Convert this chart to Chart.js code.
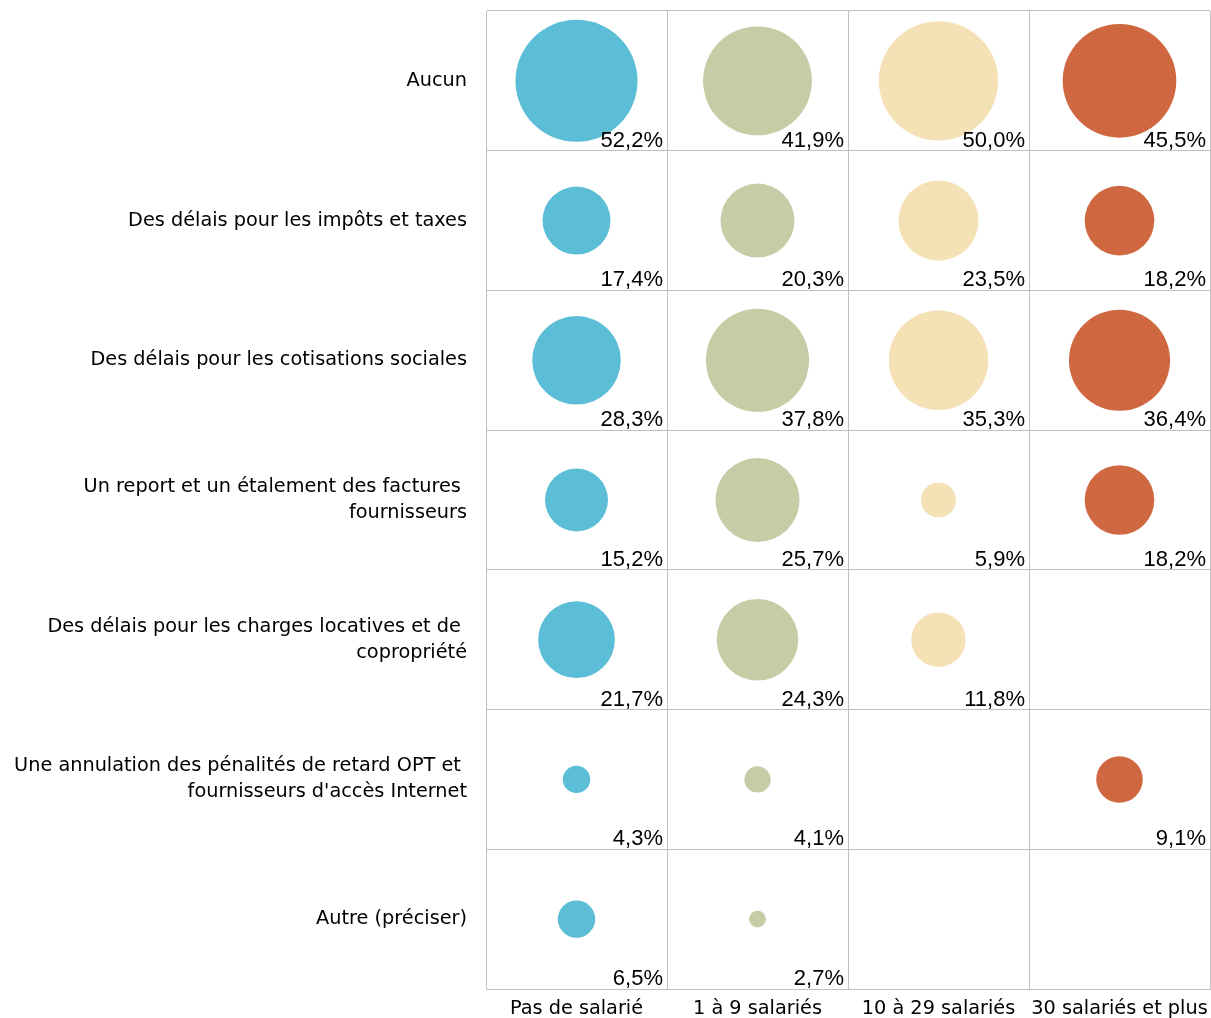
<!DOCTYPE html>
<html>
<head>
<meta charset="utf-8">
<script src="https://cdn.jsdelivr.net/npm/chart.js@4"></script>
<style>
  html, body { margin: 0; padding: 0; background: #fff; }
  #wrap { width: 1211px; height: 1018px; }
</style>
</head>
<body>
<div id="wrap"><canvas id="bubbleChart"></canvas></div>
<script>
// ===============================
// Data
// ===============================
const columns = ["Pas de salarié", "1 à 9 salariés", "10 à 29 salariés", "30 salariés et plus"];
const rows = [
  "Aucun",
  "Des délais pour les impôts et taxes",
  "Des délais pour les cotisations sociales",
  ["Un report et un étalement des factures ", "fournisseurs"],
  ["Des délais pour les charges locatives et de ", "copropriété"],
  ["Une annulation des pénalités de retard OPT et ", "fournisseurs d'accès Internet"],
  "Autre (préciser)"
];
// one array per column, one value per row (null = no answer)
const pasDeSalarie = [52.2, 17.4, 28.3, 15.2, 21.7, 4.3, 6.5];
const unA9 = [41.9, 20.3, 37.8, 25.7, 24.3, 4.1, 2.7];
const dixA29 = [50.0, 23.5, 35.3, 5.9, 11.8, null, null];
const trentePlus = [45.5, 18.2, 36.4, 18.2, null, 9.1, null];
const colours = ["#5bbed6", "#c4cda6", "#f5e1b6", "#cf6841"];

const seriesValues = [pasDeSalarie, unA9, dixA29, trentePlus];

// bubble area grows with the value
function bubbleRadius(v) {
  return Math.sqrt(Math.max(73.8 * v - 130, 16));
}
function fmt(v) {
  return v.toFixed(1).replace(".", ",") + "%";
}

// x / y are category indices, so parsing is switched off
const datasets = seriesValues.map((vals, c) => ({
  label: columns[c],
  parsing: false,
  data: vals
    .map((v, r) => (v === null ? null : { x: c, y: r, v: v }))
    .filter(p => p !== null),
  backgroundColor: colours[c],
  hoverBackgroundColor: colours[c],
  radius: ctx => bubbleRadius(ctx.raw.v),
  hoverRadius: 0,
  borderWidth: 0,
  hoverBorderWidth: 0
}));

// ===============================
// Percentage labels (bottom right of each cell)
// ===============================
const cellLabels = {
  id: "cellLabels",
  afterDatasetsDraw(chart) {
    const { ctx, scales } = chart;
    const cw = scales.x.width / columns.length;
    const ch = scales.y.height / rows.length;
    ctx.save();
    ctx.font = "22px 'Liberation Sans', Arial, sans-serif";
    ctx.fillStyle = "#000";
    ctx.textAlign = "right";
    ctx.textBaseline = "alphabetic";
    chart.data.datasets.forEach(ds => {
      ds.data.forEach(p => {
        const cx = scales.x.getPixelForValue(p.x);
        const cy = scales.y.getPixelForValue(p.y);
        ctx.fillText(fmt(p.v), cx + cw / 2 - 4, cy + ch / 2 - 4);
      });
    });
    ctx.restore();
  }
};

function noEdgePadding(scale) {
  scale.paddingTop = 0;
  scale.paddingBottom = 0;
  scale.paddingLeft = 0;
  scale.paddingRight = 0;
}

new Chart(document.getElementById("bubbleChart"), {
  type: "bubble",
  data: { labels: columns, datasets: datasets },
  plugins: [cellLabels],
  options: {
    responsive: true,
    maintainAspectRatio: false,
    animation: false,
    events: [],
    layout: { autoPadding: false, padding: { top: 11, right: 1, left: 0, bottom: 0 } },
    plugins: {
      legend: { display: false },
      tooltip: { enabled: false }
    },
    scales: {
      x: {
        type: "category",
        labels: columns,
        offset: true,
        grid: { offset: true, color: "#c0c0c0", drawTicks: false },
        border: { color: "#c0c0c0" },
        ticks: {
          color: "#000",
          padding: 8,
          maxRotation: 0,
          autoSkip: false,
          font: { family: "'DejaVu Sans', sans-serif", size: 19.3 }
        },
        afterFit(scale) { scale.height = 29; noEdgePadding(scale); }
      },
      y: {
        type: "category",
        labels: rows,
        offset: true,
        grid: { offset: true, color: "#c0c0c0", drawTicks: false },
        border: { color: "#c0c0c0" },
        ticks: {
          color: "#000",
          padding: 19,
          autoSkip: false,
          font: { family: "'DejaVu Sans', sans-serif", size: 19.3, lineHeight: 1.35 }
        },
        afterFit(scale) { scale.width = 486; noEdgePadding(scale); }
      }
    }
  }
});
</script>
</body>
</html>
